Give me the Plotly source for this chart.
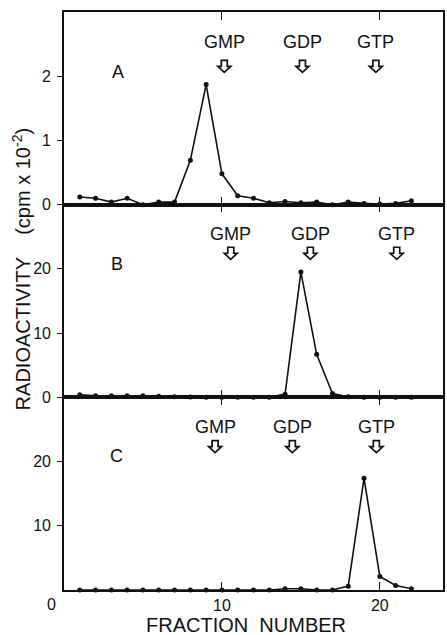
import plotly.graph_objects as go

# Fraction numbers and radioactivity (cpm x 10^-2) for the three runs
fractions = list(range(1, 23))
run_a = [0.12, 0.10, 0.04, 0.10, 0.0, 0.04, 0.04, 0.69, 1.87, 0.48, 0.14,
         0.10, 0.03, 0.05, 0.03, 0.04, 0.0, 0.04, 0.02, 0.01, 0.02, 0.06]
run_b = [0.4, 0.25, 0.25, 0.25, 0.25, 0.15, 0.1, 0.05, 0.0, 0.0, 0.0,
         0.0, 0.0, 0.5, 19.5, 6.7, 0.6, 0.1, 0.0, 0.0, 0.0, 0.0]
run_c = [0.0, 0.0, 0.0, 0.0, 0.0, 0.0, 0.0, 0.0, 0.0, 0.0, 0.0,
         0.0, 0.0, 0.2, 0.2, 0.0, 0.0, 0.6, 17.4, 2.1, 0.7, 0.2]

panel_names = ["A", "B", "C"]
panel_series = [run_a, run_b, run_c]
panel_ymax = [3, 30, 30]
panel_yticks = [[0, 1, 2], [0, 10, 20], [10, 20]]
x_ticks = [10, 20]

# Elution positions of the marker nucleotides in each run
markers = ["GMP", "GDP", "GTP"]
marker_pos = [[10.15, 15.1, 19.75], [10.56, 15.6, 21.07], [9.57, 14.46, 19.78]]
# heights (in each panel's data units) of the label centre and the arrow tip
label_y = [2.53, 25.4, 25.4]
arrow_y = [2.06, 21.5, 21.4]
letter_pos = [(3.4, 2.07), (3.37, 20.8), (3.33, 20.9)]

FONT = "Liberation Sans, Arial, Helvetica, sans-serif"
INK = "#111111"

fig = go.Figure()

domains = [[2 / 3, 1.0], [1 / 3, 2 / 3], [0.0, 1 / 3]]
arrow_path = "M0,0 L-6.5,6 L-3,6 L-3,12 L3,12 L3,6 L6.5,6 Z"

for i in range(3):
    n = i + 1
    xa = "x" if n == 1 else f"x{n}"
    ya = "y" if n == 1 else f"y{n}"
    fig.add_trace(go.Scatter(
        x=fractions, y=panel_series[i], xaxis=xa, yaxis=ya,
        mode="lines+markers",
        line=dict(color=INK, width=1.6),
        marker=dict(color=INK, size=5),
        showlegend=False, cliponaxis=False,
    ))

    xkey = "xaxis" if n == 1 else f"xaxis{n}"
    ykey = "yaxis" if n == 1 else f"yaxis{n}"
    fig.layout[xkey] = dict(
        domain=[0, 1], anchor=ya, range=[0, 24],
        tickvals=x_ticks,
        showticklabels=(n == 3),
        ticks="inside", ticklen=8, tickwidth=1.4, tickcolor=INK,
        mirror="ticks", showline=True, linewidth=1.6, linecolor=INK,
        showgrid=False, zeroline=False,
        tickfont=dict(family=FONT, size=16, color=INK),
    )
    fig.layout[ykey] = dict(
        domain=domains[i], anchor=xa, range=[0, panel_ymax[i]],
        tickvals=panel_yticks[i],
        ticks="outside", ticklen=5, tickwidth=1.4, tickcolor=INK,
        ticklabelstandoff=3,
        mirror=True, showline=True, linewidth=1.6, linecolor=INK,
        showgrid=False, zeroline=False,
        tickfont=dict(family=FONT, size=16, color=INK),
    )
    # right-hand axis carrying inward ticks
    rkey = f"yaxis{n + 3}"
    fig.layout[rkey] = dict(
        overlaying=ya, anchor=xa, side="right", range=[0, panel_ymax[i]],
        tickvals=[t for t in panel_yticks[i] if t > 0], ticks="inside",
        ticklen=6, tickwidth=1.4, tickcolor=INK, showticklabels=False,
        showline=False, showgrid=False, zeroline=False,
    )

    # panel letter
    lx, ly = letter_pos[i]
    fig.add_annotation(x=lx, y=ly, xref=xa, yref=ya, text=panel_names[i],
                       showarrow=False,
                       font=dict(family=FONT, size=18, color=INK))
    # nucleotide markers with hollow arrows
    for name, pos in zip(markers, marker_pos[i]):
        fig.add_annotation(x=pos, y=label_y[i], xref=xa, yref=ya, text=name,
                           showarrow=False,
                           font=dict(family=FONT, size=18, color=INK))
        fig.add_shape(type="path", xref=xa, yref=ya,
                      xsizemode="pixel", ysizemode="pixel",
                      xanchor=pos, yanchor=arrow_y[i], path=arrow_path,
                      line=dict(color=INK, width=1.7), fillcolor="white")

# shared origin label at the lower-left corner
fig.add_annotation(x=0, y=0, xref="x3", yref="y3", text="0", showarrow=False,
                   xshift=-13, yshift=-14,
                   font=dict(family=FONT, size=16, color=INK))

# axis titles
fig.add_annotation(x=0.48, y=-0.061, xref="paper", yref="paper",
                   text="FRACTION&nbsp;&nbsp;NUMBER", showarrow=False,
                   xanchor="center", yanchor="middle",
                   font=dict(family=FONT, size=20, color=INK))
fig.add_annotation(x=-0.113, y=0.555, xref="paper", yref="paper",
                   text="RADIOACTIVITY&nbsp;&nbsp;&nbsp;&nbsp;(cpm x 10<sup>-2</sup>)",
                   textangle=-90, showarrow=False,
                   xanchor="center", yanchor="middle",
                   font=dict(family=FONT, size=20, color=INK))

fig.update_layout(
    width=447, height=635,
    margin=dict(l=64, r=2, t=12, b=45),
    paper_bgcolor="white", plot_bgcolor="white",
    showlegend=False,
)

fig.write_html("out.html")
